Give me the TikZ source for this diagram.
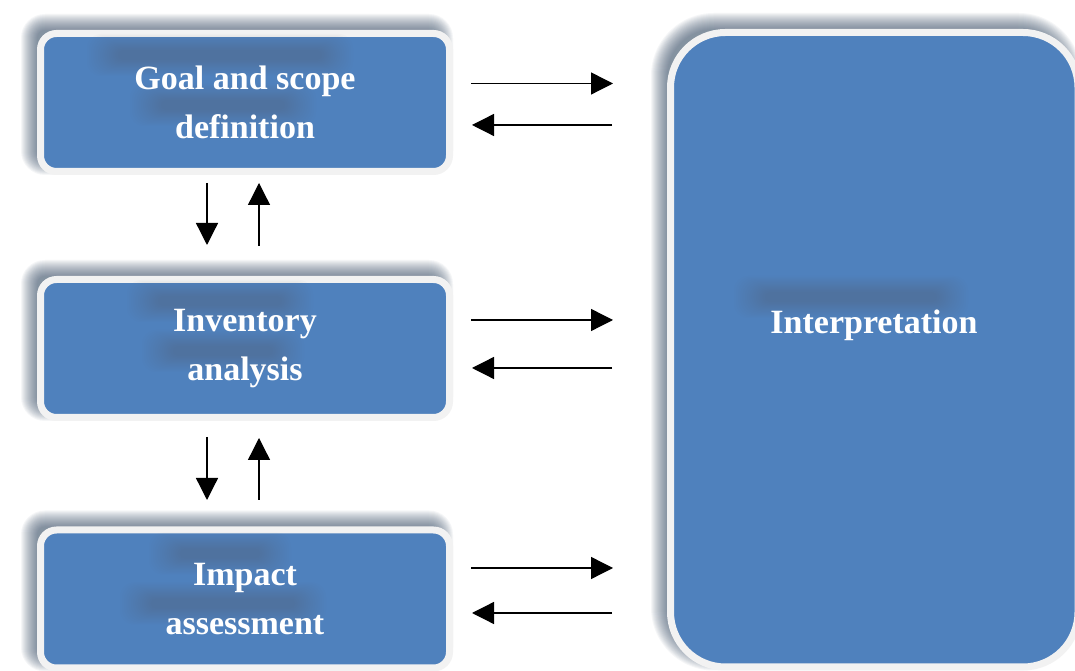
\documentclass[tikz,border=0pt]{standalone}
\usepackage{fontspec}
\setmainfont{Liberation Serif}
\usetikzlibrary{arrows.meta,calc,backgrounds}
\definecolor{boxblue}{HTML}{4F81BD}
\definecolor{boxedge}{HTML}{F2F2F2}
\definecolor{shadowgray}{HTML}{2E4560}
\definecolor{blobgray}{HTML}{505A68}
\pgfdeclarelayer{bottom}
\pgfdeclarelayer{background}
\pgfsetlayers{bottom,background,main}
\tikzset{
  stagebox/.style={draw=boxedge, line width=7pt, fill=boxblue, rounded corners=16pt,
    minimum width=409pt, minimum height=138pt, inner sep=0pt},
  interpbox/.style={draw=boxedge, line width=7pt, fill=boxblue, rounded corners=55pt,
    minimum width=407.5pt, minimum height=634.5pt, inner sep=0pt},
  boxtext/.style={text=white, font=\bfseries\fontsize{34}{49}\selectfont, inner sep=0pt, align=center},
  shadowlayer/.style={fill=shadowgray, fill opacity=0.046},
  bloblayer/.style={fill=blobgray, fill opacity=0.024},
  flow/.style={line width=1.3pt, -{Triangle[length=22pt,width=22pt]}},
}
\begin{document}
\begin{tikzpicture}[x=1pt,y=1pt]
\useasboundingbox (0,0) rectangle (1075,671);
\clip (0,0) rectangle (1075,671);
\begin{pgfonlayer}{bottom}
\fill[white] (0,0) rectangle (1075,671);
\end{pgfonlayer}
% boxes
\node[stagebox] (goal) at (245,568.5) {};
\node[stagebox] (inv) at (245,322.5) {};
\node[stagebox] (imp) at (245,72) {};
\node[interpbox] (interp) at (874.25,321.25) {};
% soft shadows, up and to the left
\begin{scope}[on background layer]
\foreach \n/\r in {goal/16, inv/16, imp/16, interp/55} {
  \foreach \d in {-8,-7,...,8} {
    \pgfmathsetmacro{\rr}{max(4,\r+\d)}
    \fill[shadowlayer, rounded corners=\rr pt]
      ($(\n.north west)+(-8-\d,8+\d)$) rectangle ($(\n.south east)+(-8+\d,8-\d)$);
  }
}
\end{scope}
% blurred text shadows (soft darker bands inside the boxes)
\foreach \cx/\cy/\hw in {220/616/117, 223/566/77, 220/370/77, 223/320/65,
                         220/117.5/55, 223/67.5/87, 851/374/101} {
  \foreach \d in {0,...,14} {
    \pgfmathsetmacro{\hx}{\hw+16-2.2*\d}
    \pgfmathsetmacro{\hy}{21-1.15*\d}
    \pgfmathsetmacro{\rc}{min(\hy,14)}
    \fill[bloblayer, rounded corners=\rc pt] (\cx-\hx,\cy-\hy) rectangle (\cx+\hx,\cy+\hy);
  }
}
% texts
\node[boxtext] (goaltext) at (goal.center) {Goal and scope\\definition};
\node[boxtext] (invtext) at (inv.center) {Inventory\\analysis};
\node[boxtext] (imptext) at (imp.center) {Impact\\assessment};
\node[boxtext] (interplabel) at (874,346) {Interpretation};
% horizontal arrow ends
\coordinate (g1) at (471,587.5); \coordinate (g2) at (613,587.5);
\coordinate (g3) at (612,546);   \coordinate (g4) at (472,546);
\coordinate (i1) at (471,351);   \coordinate (i2) at (613,351);
\coordinate (i3) at (612,303);   \coordinate (i4) at (472,303);
\coordinate (m1) at (471,103);   \coordinate (m2) at (613,103);
\coordinate (m3) at (612,58);    \coordinate (m4) at (472,58);
% vertical arrow ends
\coordinate (d1) at (207,488);   \coordinate (d2) at (207,426);
\coordinate (u1) at (259,425);   \coordinate (u2) at (259,488);
\coordinate (d3) at (207,234);   \coordinate (d4) at (207,171);
\coordinate (u3) at (259,171);   \coordinate (u4) at (259,233);
\draw[flow] (g1) -- (g2);
\draw[flow] (g3) -- (g4);
\draw[flow] (i1) -- (i2);
\draw[flow] (i3) -- (i4);
\draw[flow] (m1) -- (m2);
\draw[flow] (m3) -- (m4);
\draw[flow] (d1) -- (d2);
\draw[flow] (u1) -- (u2);
\draw[flow] (d3) -- (d4);
\draw[flow] (u3) -- (u4);
\end{tikzpicture}
\end{document}
